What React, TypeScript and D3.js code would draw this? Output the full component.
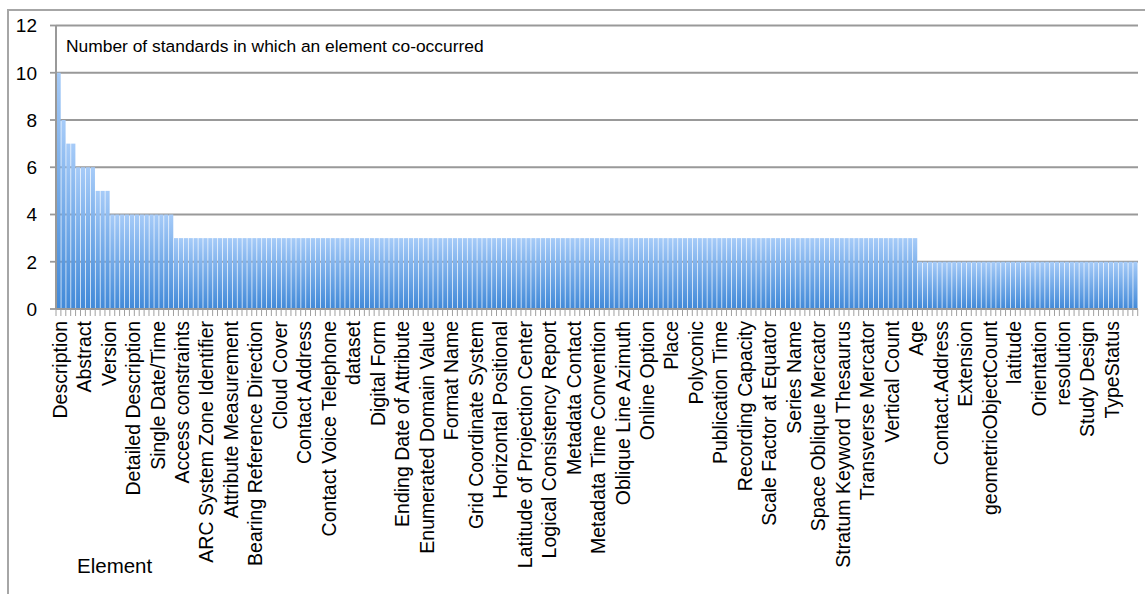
import React, { useEffect, useRef } from 'react';
import * as d3 from 'd3';

// labels shown on the axis (every 5th element)
const tickLabels = [
  'Description', 'Abstract', 'Version', 'Detailed Description', 'Single Date/Time',
  'Access constraints', 'ARC System Zone Identifier', 'Attribute Measurement',
  'Bearing Reference Direction', 'Cloud Cover', 'Contact Address', 'Contact Voice Telephone',
  'dataset', 'Digital Form', 'Ending Date of Attribute', 'Enumerated Domain Value',
  'Format Name', 'Grid Coordinate System', 'Horizontal Positional',
  'Latitude of Projection Center', 'Logical Consistency Report', 'Metadata Contact',
  'Metadata Time Convention', 'Oblique Line Azimuth', 'Online Option', 'Place', 'Polyconic',
  'Publication Time', 'Recording Capacity', 'Scale Factor at Equator', 'Series Name',
  'Space Oblique Mercator', 'Stratum Keyword Thesaurus', 'Transverse Mercator',
  'Vertical Count', 'Age', 'Contact.Address', 'Extension', 'geometricObjectCount',
  'latitude', 'Orientation', 'resolution', 'Study Design', 'TypeStatus'
];
const labelEvery = 5;

// number of standards per element (217 elements)
const values = [
  10, 8, 7, 7, 6, 6, 6, 6, 5, 5, 5, 4, 4, 4, 4, 4, 4, 4, 4, 4, 4, 4, 4, 4,
  3, 3, 3, 3, 3, 3, 3, 3, 3, 3, 3, 3, 3, 3, 3, 3, 3, 3, 3, 3, 3, 3, 3, 3, 3, 3,
  3, 3, 3, 3, 3, 3, 3, 3, 3, 3, 3, 3, 3, 3, 3, 3, 3, 3, 3, 3, 3, 3, 3, 3, 3, 3,
  3, 3, 3, 3, 3, 3, 3, 3, 3, 3, 3, 3, 3, 3, 3, 3, 3, 3, 3, 3, 3, 3, 3, 3, 3, 3,
  3, 3, 3, 3, 3, 3, 3, 3, 3, 3, 3, 3, 3, 3, 3, 3, 3, 3, 3, 3, 3, 3, 3, 3, 3, 3,
  3, 3, 3, 3, 3, 3, 3, 3, 3, 3, 3, 3, 3, 3, 3, 3, 3, 3, 3, 3, 3, 3, 3, 3, 3, 3,
  3, 3, 3, 3, 3, 3, 3, 3, 3, 3, 3, 3, 3, 3, 3, 3, 3, 3, 3, 3, 3, 3,
  2, 2, 2, 2, 2, 2, 2, 2, 2, 2, 2, 2, 2, 2, 2, 2, 2, 2, 2, 2, 2, 2, 2, 2, 2,
  2, 2, 2, 2, 2, 2, 2, 2, 2, 2, 2, 2, 2, 2, 2, 2, 2, 2, 2, 2
];

const yTicks = [0, 2, 4, 6, 8, 10, 12];
const chartTitle = 'Number of standards in which an element co-occurred';
const axisTitle = 'Element';

const App: React.FC = () => {
  const svgRef = useRef<SVGSVGElement>(null);
  const width = 1145;
  const height = 594;

  useEffect(() => {
    if (!svgRef.current) return;
    const svg = d3.select(svgRef.current);
    svg.selectAll('*').remove();

    const font = '"Liberation Sans", Arial, Helvetica, sans-serif';
    const left = 56, right = 1138, top = 25.5, bottom = 309;

    const defs = svg.append('defs');
    const grad = defs.append('linearGradient')
      .attr('id', 'barGrad')
      .attr('x1', 0).attr('y1', 0).attr('x2', 0).attr('y2', 1);
    grad.append('stop').attr('offset', '0%').attr('stop-color', '#a6cbf8');
    grad.append('stop').attr('offset', '100%').attr('stop-color', '#4189d8');

    // chart area border
    svg.append('rect')
      .attr('x', 8).attr('y', 10)
      .attr('width', width).attr('height', height)
      .attr('fill', '#fff')
      .attr('stroke', '#a6a6a6')
      .attr('stroke-width', 2);

    const x = d3.scaleBand<number>()
      .domain(d3.range(values.length))
      .range([left, right])
      .paddingInner(0.14)
      .paddingOuter(0.1);

    const y = d3.scaleLinear().domain([0, 12]).range([bottom, top]);

    // gridlines
    svg.append('g')
      .selectAll('line')
      .data(yTicks.filter(t => t > 0))
      .join('line')
      .attr('x1', left).attr('x2', right)
      .attr('y1', d => y(d)).attr('y2', d => y(d))
      .attr('stroke', '#999')
      .attr('stroke-width', 1.8);

    // y tick marks + labels
    const yAxis = svg.append('g');
    yAxis.selectAll('line')
      .data(yTicks)
      .join('line')
      .attr('x1', left - 6).attr('x2', left)
      .attr('y1', d => y(d)).attr('y2', d => y(d))
      .attr('stroke', '#999')
      .attr('stroke-width', 1.8);
    yAxis.selectAll('text')
      .data(yTicks)
      .join('text')
      .attr('x', 37)
      .attr('y', d => y(d))
      .attr('dy', '0.36em')
      .attr('text-anchor', 'end')
      .style('font-family', font)
      .style('font-size', '19px')
      .style('fill', '#000')
      .text(d => d);

    // bars
    svg.append('g')
      .selectAll('rect')
      .data(values)
      .join('rect')
      .attr('x', (_d, i) => x(i)!)
      .attr('y', d => y(d))
      .attr('width', x.bandwidth())
      .attr('height', d => bottom - y(d))
      .attr('fill', 'url(#barGrad)');

    // axes lines
    svg.append('line')
      .attr('x1', left).attr('x2', left)
      .attr('y1', top).attr('y2', bottom)
      .attr('stroke', '#999').attr('stroke-width', 2);
    svg.append('line')
      .attr('x1', left).attr('x2', right)
      .attr('y1', bottom).attr('y2', bottom)
      .attr('stroke', '#999').attr('stroke-width', 2);

    // category tick comb
    const step = x.step();
    const x0 = x(0)! - step * x.paddingOuter();
    svg.append('g')
      .selectAll('line')
      .data(d3.range(values.length + 1))
      .join('line')
      .attr('x1', i => x0 + i * step)
      .attr('x2', i => x0 + i * step)
      .attr('y1', bottom).attr('y2', bottom + 7)
      .attr('stroke', '#a0a0a0')
      .attr('stroke-width', 1);

    // category labels
    svg.append('g')
      .selectAll('text')
      .data(tickLabels)
      .join('text')
      .attr('transform', (_d, k) => {
        const i = k * labelEvery;
        const cx = x(i)! + x.bandwidth() / 2 + 1;
        return `translate(${cx},${bottom + 12}) rotate(-90)`;
      })
      .attr('dy', '0.36em')
      .attr('text-anchor', 'end')
      .style('font-family', font)
      .style('font-size', '19.5px')
      .style('fill', '#000')
      .text(d => d);

    // titles
    svg.append('text')
      .attr('x', 66).attr('y', 52)
      .style('font-family', font)
      .style('font-size', '17.4px')
      .style('fill', '#000')
      .text(chartTitle);

    svg.append('text')
      .attr('x', 77).attr('y', 573)
      .style('font-family', font)
      .style('font-size', '20.5px')
      .style('fill', '#000')
      .text(axisTitle);
  }, []);

  return (
    <svg
      ref={svgRef}
      width={width}
      height={height}
      style={{ position: 'absolute', left: 0, top: 0, background: '#fff' }}
    />
  );
};

export default App;
